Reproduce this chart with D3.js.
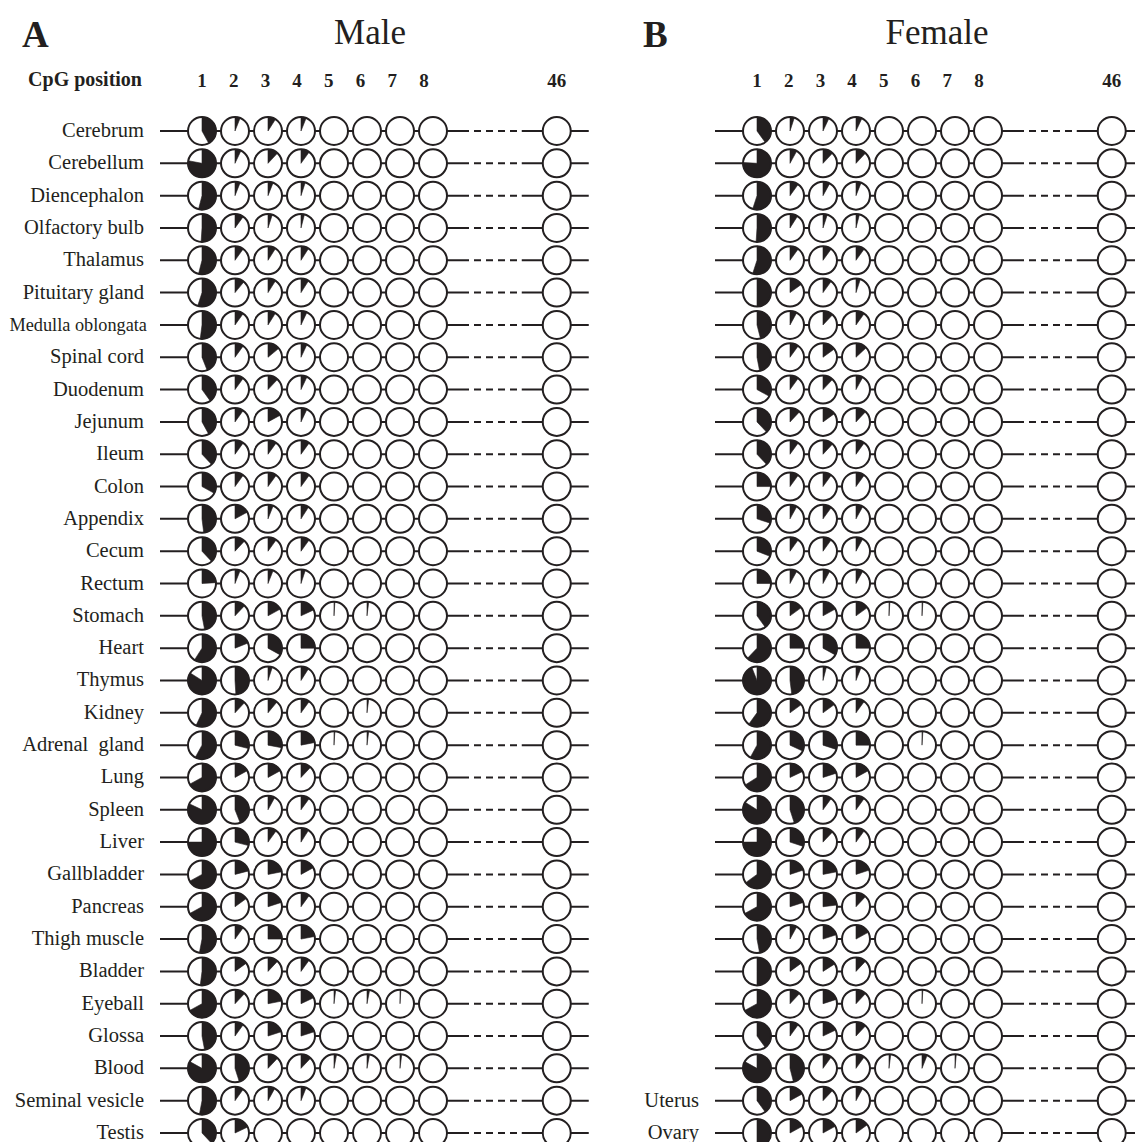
<!DOCTYPE html>
<html>
<head>
<meta charset="utf-8">
<script src="https://cdnjs.cloudflare.com/ajax/libs/d3/7.8.5/d3.min.js"></script>
<style>
  body { margin: 0; background: #fff; }
  text { font-family: "Liberation Serif", "Times New Roman", serif; fill: #231f20; }
</style>
</head>
<body>
<div class="chart"></div>
<script>
const svgWidth = 1135
const svgHeight = 1142

// CpG sites shown (1-8, then a gap, then 46)
const cpgPositions = ["1", "2", "3", "4", "5", "6", "7", "8", "46"]

const maleTissues = ["Cerebrum", "Cerebellum", "Diencephalon", "Olfactory bulb", "Thalamus",
  "Pituitary gland", "Medulla oblongata", "Spinal cord", "Duodenum", "Jejunum", "Ileum",
  "Colon", "Appendix", "Cecum", "Rectum", "Stomach", "Heart", "Thymus", "Kidney",
  "Adrenal  gland", "Lung", "Spleen", "Liver", "Gallbladder", "Pancreas", "Thigh muscle",
  "Bladder", "Eyeball", "Glossa", "Blood", "Seminal vesicle", "Testis"]

const femaleTissues = ["Cerebrum", "Cerebellum", "Diencephalon", "Olfactory bulb", "Thalamus",
  "Pituitary gland", "Medulla oblongata", "Spinal cord", "Duodenum", "Jejunum", "Ileum",
  "Colon", "Appendix", "Cecum", "Rectum", "Stomach", "Heart", "Thymus", "Kidney",
  "Adrenal  gland", "Lung", "Spleen", "Liver", "Gallbladder", "Pancreas", "Thigh muscle",
  "Bladder", "Eyeball", "Glossa", "Blood", "Uterus", "Ovary"]

// methylated fraction per CpG (1..8, 46), one row per tissue
const maleMeth = [
  [0.42, 0.06, 0.09, 0.06, 0, 0, 0, 0, 0],
  [0.78, 0.07, 0.12, 0.10, 0, 0, 0, 0, 0],
  [0.54, 0.06, 0.06, 0.05, 0, 0, 0, 0, 0],
  [0.51, 0.10, 0.05, 0.04, 0, 0, 0, 0, 0],
  [0.54, 0.10, 0.09, 0.09, 0, 0, 0, 0, 0],
  [0.55, 0.11, 0.09, 0.09, 0, 0, 0, 0, 0],
  [0.52, 0.10, 0.09, 0.07, 0, 0, 0, 0, 0],
  [0.44, 0.10, 0.14, 0.07, 0, 0, 0, 0, 0],
  [0.40, 0.10, 0.12, 0.07, 0, 0, 0, 0, 0],
  [0.42, 0.10, 0.17, 0.07, 0, 0, 0, 0, 0],
  [0.38, 0.10, 0.10, 0.10, 0, 0, 0, 0, 0],
  [0.33, 0.10, 0.10, 0.10, 0, 0, 0, 0, 0],
  [0.48, 0.17, 0.06, 0.09, 0, 0, 0, 0, 0],
  [0.38, 0.12, 0.10, 0.10, 0, 0, 0, 0, 0],
  [0.24, 0.06, 0.06, 0.05, 0, 0, 0, 0, 0],
  [0.47, 0.12, 0.17, 0.18, 0.01, 0.02, 0, 0, 0],
  [0.59, 0.19, 0.33, 0.25, 0, 0, 0, 0, 0],
  [0.84, 0.49, 0.05, 0.09, 0, 0, 0, 0, 0],
  [0.57, 0.12, 0.11, 0.10, 0, 0.02, 0, 0, 0],
  [0.58, 0.29, 0.28, 0.22, 0.01, 0.02, 0, 0, 0],
  [0.67, 0.17, 0.17, 0.12, 0, 0, 0, 0, 0],
  [0.82, 0.44, 0.08, 0.10, 0, 0, 0, 0, 0],
  [0.75, 0.29, 0.10, 0.09, 0, 0, 0, 0, 0],
  [0.67, 0.21, 0.22, 0.17, 0, 0, 0, 0, 0],
  [0.67, 0.15, 0.20, 0.10, 0, 0, 0, 0, 0],
  [0.53, 0.10, 0.25, 0.22, 0, 0, 0, 0, 0],
  [0.52, 0.15, 0.12, 0.10, 0, 0, 0, 0, 0],
  [0.67, 0.12, 0.22, 0.18, 0.02, 0.03, 0.01, 0, 0],
  [0.47, 0.10, 0.20, 0.20, 0, 0, 0, 0, 0],
  [0.83, 0.45, 0.12, 0.12, 0.03, 0.03, 0.02, 0, 0],
  [0.53, 0.10, 0.08, 0.06, 0, 0, 0, 0, 0],
  [0.38, 0.18, 0, 0, 0, 0, 0, 0, 0]
]

const femaleMeth = [
  [0.40, 0.05, 0.07, 0.07, 0, 0, 0, 0, 0],
  [0.76, 0.08, 0.12, 0.12, 0, 0, 0, 0, 0],
  [0.55, 0.10, 0.08, 0.06, 0, 0, 0, 0, 0],
  [0.51, 0.09, 0.05, 0.04, 0, 0, 0, 0, 0],
  [0.55, 0.10, 0.10, 0.10, 0, 0, 0, 0, 0],
  [0.50, 0.15, 0.10, 0.05, 0, 0, 0, 0, 0],
  [0.46, 0.08, 0.12, 0.10, 0, 0, 0, 0, 0],
  [0.47, 0.10, 0.15, 0.13, 0, 0, 0, 0, 0],
  [0.33, 0.10, 0.12, 0.08, 0, 0, 0, 0, 0],
  [0.38, 0.12, 0.15, 0.12, 0, 0, 0, 0, 0],
  [0.38, 0.10, 0.12, 0.10, 0, 0, 0, 0, 0],
  [0.25, 0.10, 0.10, 0.10, 0, 0, 0, 0, 0],
  [0.30, 0.08, 0.10, 0.08, 0, 0, 0, 0, 0],
  [0.31, 0.10, 0.10, 0.08, 0, 0, 0, 0, 0],
  [0.25, 0.08, 0.08, 0.08, 0, 0, 0, 0, 0],
  [0.40, 0.15, 0.17, 0.15, 0.01, 0.01, 0, 0, 0],
  [0.62, 0.25, 0.33, 0.25, 0, 0, 0, 0, 0],
  [0.94, 0.48, 0.04, 0.06, 0, 0, 0, 0, 0],
  [0.60, 0.15, 0.15, 0.10, 0, 0, 0, 0, 0],
  [0.58, 0.32, 0.30, 0.25, 0, 0.01, 0, 0, 0],
  [0.66, 0.18, 0.20, 0.17, 0, 0, 0, 0, 0],
  [0.84, 0.45, 0.10, 0.10, 0, 0, 0, 0, 0],
  [0.75, 0.30, 0.12, 0.10, 0, 0, 0, 0, 0],
  [0.65, 0.20, 0.22, 0.20, 0, 0, 0, 0, 0],
  [0.67, 0.20, 0.23, 0.12, 0, 0, 0, 0, 0],
  [0.47, 0.08, 0.20, 0.17, 0, 0, 0, 0, 0],
  [0.50, 0.15, 0.16, 0.12, 0, 0, 0, 0, 0],
  [0.67, 0.12, 0.20, 0.12, 0, 0.01, 0, 0, 0],
  [0.40, 0.10, 0.18, 0.12, 0, 0, 0, 0, 0],
  [0.83, 0.46, 0.10, 0.10, 0.02, 0.06, 0.015, 0, 0],
  [0.40, 0.17, 0.12, 0.08, 0, 0, 0, 0, 0],
  [0.50, 0.17, 0.17, 0.15, 0, 0, 0, 0, 0]
]

const ink = "#231f20"
const radius = 14

let svg = d3
  .select(".chart")
  .append("svg")
  .attr("width", svgWidth)
  .attr("height", svgHeight)

// slot index for each CpG column: 1..8 are adjacent, 46 sits after the gap
let slot = d => (d === "46" ? 10.75 : +d - 1)

let x = d3.scaleLinear().domain([0, 1]).range([202, 235])
let xLabel = d3.scaleLinear().domain([0, 1]).range([202, 233.7])

let arc = d3.arc().innerRadius(0).outerRadius(radius).startAngle(0)

/**
 * Draws one panel (letter, title, CpG header and one row per tissue).
 **/
function drawPanel(offset, letter, letterX, title, titleX, tissues, meth, labelRows) {
  let g = svg.append("g").attr("transform", `translate(${offset}, 0)`)

  let y = d3
    .scalePoint()
    .domain(d3.range(tissues.length))
    .range([131, 1133])

  g.append("text")
    .attr("x", letterX)
    .attr("y", 47)
    .attr("font-size", 37)
    .attr("font-weight", "bold")
    .text(letter)

  g.append("text")
    .attr("x", titleX)
    .attr("y", 44)
    .attr("text-anchor", "middle")
    .attr("font-size", 35)
    .text(title)

  if (offset === 0) {
    g.append("text")
      .attr("x", 142)
      .attr("y", 86)
      .attr("text-anchor", "end")
      .attr("font-size", 20)
      .attr("font-weight", "bold")
      .text("CpG position")
  }

  g.selectAll("text.cpg")
    .data(cpgPositions)
    .enter()
    .append("text")
    .attr("class", "cpg")
    .attr("x", d => (d === "46" ? x(slot(d)) : xLabel(slot(d))))
    .attr("y", 87)
    .attr("text-anchor", "middle")
    .attr("font-size", 19)
    .attr("font-weight", "bold")
    .text(d => d)

  let rows = g
    .selectAll("g.row")
    .data(tissues.map((t, i) => ({ name: t, i: i, values: meth[i] })))
    .enter()
    .append("g")
    .attr("class", "row")
    .attr("transform", d => `translate(0, ${y(d.i)})`)

  rows
    .filter(d => labelRows(d.name))
    .append("text")
    .attr("x", d => (d.name === "Medulla oblongata" ? 147 : 144))
    .attr("y", 6)
    .attr("text-anchor", "end")
    .attr("font-size", d => (d.name === "Medulla oblongata" ? 18.3 : 20.5))
    .style("white-space", "pre")
    .text(d => d.name)

  let x8 = x(slot("8"))
  let x46 = x(slot("46"))

  // backbone: solid, dashed gap, solid
  rows.append("line")
    .attr("x1", x(slot("1")) - radius - 28)
    .attr("x2", x8 + radius + 15)
    .attr("stroke", ink)
    .attr("stroke-width", 2)

  rows.append("line")
    .attr("x1", x8 + radius + 15)
    .attr("x2", x46 - radius - 21)
    .attr("stroke", ink)
    .attr("stroke-width", 2)
    .attr("stroke-dasharray", "7,5")

  rows.append("line")
    .attr("x1", x46 - radius - 21)
    .attr("x2", x46 + radius + 18)
    .attr("stroke", ink)
    .attr("stroke-width", 2)

  let cells = rows
    .selectAll("g.cell")
    .data(d => cpgPositions.map((p, j) => ({ pos: p, v: d.values[j] })))
    .enter()
    .append("g")
    .attr("class", "cell")
    .attr("transform", d => `translate(${x(slot(d.pos))}, 0)`)

  cells.append("circle")
    .attr("r", radius)
    .attr("fill", "#fff")

  cells.filter(d => d.v > 0)
    .append("path")
    .attr("d", d => arc.endAngle(2 * Math.PI * d.v)())
    .attr("fill", ink)
    .attr("stroke", ink)
    .attr("stroke-width", 0.6)

  cells.append("circle")
    .attr("r", radius)
    .attr("fill", "none")
    .attr("stroke", ink)
    .attr("stroke-width", 2)
}

drawPanel(0, "A", 22, "Male", 370, maleTissues, maleMeth, () => true)
drawPanel(555, "B", 88, "Female", 382, femaleTissues, femaleMeth, name => !maleTissues.includes(name))
</script>
</body>
</html>
